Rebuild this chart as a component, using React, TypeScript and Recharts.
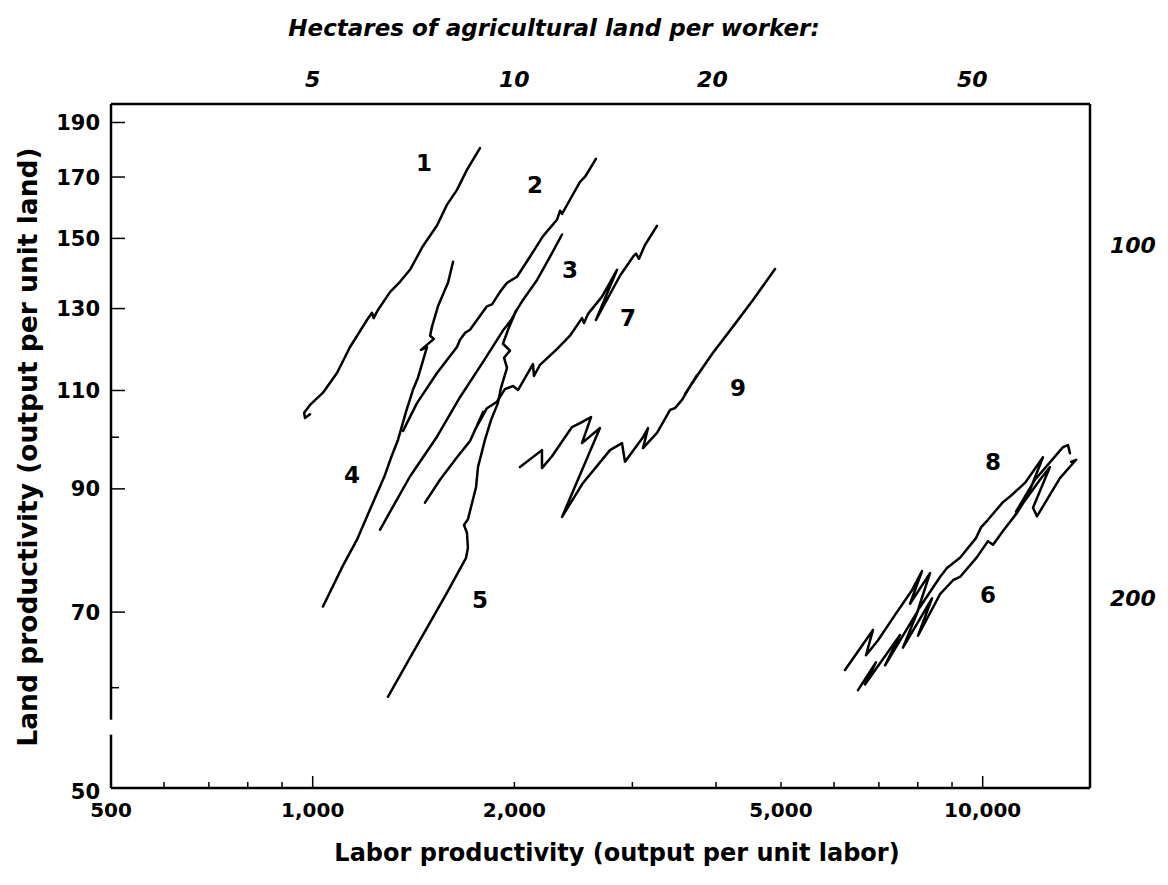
import React from 'react';
import { ComposedChart, Line, Scatter, XAxis, YAxis } from 'recharts';

// [labor productivity, land productivity] pairs
const line1 = [[991, 104.8], [974, 104.0], [971, 105.1], [991, 106.8], [1036, 109.5], [1087, 114.0], [1137, 120.2], [1205, 127.0], [1226, 128.9], [1233, 127.5], [1252, 129.7], [1305, 134.5], [1350, 137.3], [1397, 140.7], [1461, 147.7], [1533, 154.0], [1586, 160.6], [1642, 165.6], [1699, 172.5], [1777, 180.3]];
const line2 = [[1364, 101.3], [1431, 107.2], [1533, 114.0], [1642, 120.2], [1659, 122.0], [1688, 123.7], [1717, 124.5], [1759, 127.0], [1820, 130.6], [1852, 131.1], [1904, 134.5], [1950, 137.0], [2018, 138.7], [2110, 144.5], [2207, 150.7], [2315, 155.8], [2340, 158.7], [2356, 157.7], [2421, 162.3], [2506, 168.3], [2550, 170.1], [2647, 176.4]];
const line3 = [[1260, 82.8], [1397, 92.3], [1533, 100.1], [1659, 108.5], [1796, 116.6], [1923, 124.3], [1991, 127.6], [1957, 125.6], [2018, 129.7], [2060, 132.3], [2162, 137.8], [2261, 144.5], [2356, 151.2]];
const line4 = [[1620, 143.0], [1592, 137.0], [1538, 130.6], [1507, 125.3], [1497, 123.0], [1517, 122.2], [1451, 119.5], [1481, 120.2], [1461, 116.9], [1436, 112.9], [1411, 110.1], [1378, 105.3], [1341, 99.5], [1309, 95.9], [1282, 92.6], [1226, 87.1], [1164, 81.1], [1110, 77.0], [1036, 70.8]];
const line5 = [[1295, 58.9], [1446, 66.1], [1586, 72.8], [1694, 78.2], [1705, 79.8], [1699, 82.3], [1682, 83.6], [1705, 84.6], [1753, 90.3], [1765, 94.1], [1808, 99.5], [1846, 103.6], [1890, 107.2], [1910, 110.6], [1950, 115.2], [1930, 117.6], [1970, 119.3], [1923, 121.0], [1957, 124.5], [2011, 129.4]];
const line6 = [[6515, 59.7], [6931, 63.2], [6672, 60.4], [7527, 66.8], [7150, 62.8], [8006, 70.2], [7603, 65.1], [8402, 72.0], [8006, 66.7], [8636, 72.6], [9031, 74.7], [9250, 75.2], [9806, 78.3], [10183, 80.9], [10361, 80.3], [10722, 82.6], [11251, 85.7], [11488, 87.4], [12175, 91.7], [12600, 94.1], [11887, 86.6], [12051, 85.1], [13041, 92.0], [13785, 95.5], [13549, 95.1]];
const line7 = [[1471, 87.5], [1549, 91.7], [1642, 96.0], [1717, 99.2], [1796, 105.3], [1753, 101.9], [1820, 106.1], [1884, 107.5], [1936, 110.3], [1991, 111.0], [2025, 110.1], [2132, 116.1], [2139, 113.3], [2184, 115.9], [2315, 119.7], [2421, 123.0], [2523, 127.5], [2541, 126.2], [2576, 128.6], [2703, 133.2], [2846, 140.7], [2647, 127.0], [2875, 139.0], [3007, 144.5], [3038, 145.4], [3069, 143.9], [3133, 148.0], [3265, 153.9]];
const line8 = [[6230, 62.2], [6859, 67.5], [6696, 64.1], [6979, 66.1], [7399, 69.6], [7843, 73.2], [8118, 76.1], [7790, 71.2], [8344, 75.8], [8006, 70.3], [8636, 75.2], [8845, 76.6], [9250, 78.2], [9772, 81.4], [9943, 83.2], [10183, 84.5], [10722, 87.6], [10983, 88.6], [11564, 91.1], [12302, 96.0], [11764, 89.8], [11212, 85.9], [11968, 91.7], [13178, 98.0], [13406, 98.4], [13497, 96.8]];
const line9 = [[2039, 94.1], [2199, 97.4], [2199, 93.9], [2276, 96.2], [2438, 102.1], [2506, 102.9], [2603, 104.2], [2523, 98.8], [2684, 101.9], [2356, 85.0], [2532, 91.1], [2778, 97.4], [2895, 98.8], [2925, 95.1], [3112, 100.0], [3166, 101.9], [3112, 97.8], [3265, 100.9], [3414, 105.7], [3473, 106.1], [3558, 107.9], [3746, 113.5], [3595, 109.2], [3772, 114.0], [3958, 118.8], [4239, 125.3], [4541, 132.3], [4898, 140.9]];

const seriesLabels = [
  { name: '1', x: 1466, y: 175.0 },
  { name: '2', x: 2147, y: 167.3 },
  { name: '3', x: 2421, y: 140.7 },
  { name: '4', x: 1145, y: 92.6 },
  { name: '5', x: 1777, y: 71.8 },
  { name: '6', x: 10183, y: 72.5 },
  { name: '7', x: 2955, y: 127.5 },
  { name: '8', x: 10361, y: 95.1 },
  { name: '9', x: 4312, y: 110.6 },
];

const xDomain = [500, 14460];
const yDomain = [48.9, 197.3];
const xTicks = [500, 600, 700, 800, 900, 1000, 2000, 3000, 4000, 5000, 6000, 7000, 8000, 9000, 10000];
const xLabels: Record<number, string> = { 500: '500', 1000: '1,000', 2000: '2,000', 5000: '5,000', 10000: '10,000' };
const yTicks = [50, 60, 70, 90, 100, 110, 130, 150, 170, 190];
const yLabels = [50, 70, 90, 110, 130, 150, 170, 190];
// hectares per worker, marked along the top and right edges
const topTicks = [1000, 2000, 3950, 9650];
const topLabels = ['5', '10', '20', '50'];
const rightTicks = [148, 72];
const rightLabels = ['100', '200'];

const FONT = '"DejaVu Sans", Verdana, sans-serif';
const toPts = (arr: number[][]) => arr.map(([x, y]) => ({ x, y }));
const allLines = [line1, line2, line3, line4, line5, line6, line7, line8, line9].map(toPts);

const BottomTick = (props: any) => {
  const { x, y, payload } = props;
  const v = payload.value;
  const len = v === 1000 || v === 10000 ? 12 : 6;
  return (
    <g>
      {v !== 500 && <line x1={x} x2={x} y1={y} y2={y - len} stroke="#000" strokeWidth={1.5} />}
      {xLabels[v] && (
        <text x={x} y={y + 29} textAnchor="middle" fontFamily={FONT} fontWeight={700} fontSize={20} fill="#000">
          {xLabels[v]}
        </text>
      )}
    </g>
  );
};

const LeftTick = (props: any) => {
  const { x, y, payload } = props;
  const v = payload.value;
  const len = v === 60 || v === 100 ? 8 : 14;
  return (
    <g>
      {v !== 50 && <line x1={x} x2={x + len} y1={y} y2={y} stroke="#000" strokeWidth={1.5} />}
      {v === 60 && <rect x={x - 3} y={y + 32} width={6} height={15} fill="#fff" />}
      {yLabels.includes(v) && (
        <text x={x - 11} y={y + (v === 50 ? 14 : 0)} dy="0.36em" textAnchor="end" fontFamily={FONT} fontWeight={700} fontSize={21} fill="#000">
          {v}
        </text>
      )}
    </g>
  );
};

const TopTick = (props: any) => {
  const { x, y, index } = props;
  return (
    <text x={x} y={y - 17} textAnchor="middle" fontFamily={FONT} fontWeight={700} fontStyle="italic" fontSize={22} fill="#000">
      {topLabels[index]}
    </text>
  );
};

const RightTick = (props: any) => {
  const { x, y, index } = props;
  return (
    <text x={x + 20} y={y + 8} textAnchor="start" fontFamily={FONT} fontWeight={700} fontStyle="italic" fontSize={22} fill="#000">
      {rightLabels[index]}
    </text>
  );
};

const NumberLabel = (props: any) => {
  const { cx, cy, payload } = props;
  return (
    <text x={cx} y={cy} dy="0.36em" textAnchor="middle" fontFamily={FONT} fontWeight={700} fontSize={23} fill="#000">
      {payload.name}
    </text>
  );
};

export default function App() {
  return (
    <div style={{ position: 'absolute', left: 0, top: 0, width: 1168, height: 885, background: '#fff' }}>
      <ComposedChart width={1168} height={885} margin={{ top: 14, right: 8, bottom: 7, left: 11 }}>
        <XAxis
          xAxisId="bottom"
          dataKey="x"
          type="number"
          scale="log"
          domain={xDomain}
          allowDataOverflow
          ticks={xTicks}
          tickSize={0}
          tickMargin={0}
          tickLine={false}
          tick={BottomTick}
          axisLine={{ stroke: '#000', strokeWidth: 2.5 }}
          height={90}
          interval={0}
          label={{
            content: () => (
              <text x={617} y={861} textAnchor="middle" fontFamily={FONT} fontWeight={700} fontSize={24} fill="#000">
                Labor productivity (output per unit labor)
              </text>
            ),
          }}
        />
        <XAxis
          xAxisId="top"
          orientation="top"
          dataKey="x"
          type="number"
          scale="log"
          domain={xDomain}
          allowDataOverflow
          ticks={topTicks}
          tickSize={0}
          tickMargin={0}
          tickLine={false}
          tick={TopTick}
          axisLine={{ stroke: '#000', strokeWidth: 2.5 }}
          height={90}
          interval={0}
          label={{
            content: () => (
              <text x={554} y={36} textAnchor="middle" fontFamily={FONT} fontWeight={700} fontStyle="italic" fontSize={23} fill="#000">
                Hectares of agricultural land per worker:
              </text>
            ),
          }}
        />
        <YAxis
          yAxisId="left"
          dataKey="y"
          type="number"
          scale="log"
          domain={yDomain}
          allowDataOverflow
          ticks={yTicks}
          tickSize={0}
          tickMargin={0}
          tickLine={false}
          tick={LeftTick}
          axisLine={{ stroke: '#000', strokeWidth: 2.5 }}
          width={100}
          interval={0}
          label={{
            content: () => (
              <text x={27} y={447} transform="rotate(-90 27 447)" dy="0.36em" textAnchor="middle" fontFamily={FONT} fontWeight={700} fontSize={26.5} fill="#000">
                Land productivity (output per unit land)
              </text>
            ),
          }}
        />
        <YAxis
          yAxisId="right"
          orientation="right"
          dataKey="y"
          type="number"
          scale="log"
          domain={yDomain}
          allowDataOverflow
          ticks={rightTicks}
          tickSize={0}
          tickMargin={0}
          tickLine={false}
          tick={RightTick}
          axisLine={{ stroke: '#000', strokeWidth: 2.5 }}
          width={70}
          interval={0}
        />
        <Line xAxisId="top" yAxisId="right" data={allLines[0]} dataKey="y" stroke="none" dot={false} isAnimationActive={false} />
        {allLines.map((pts, i) => (
          <Line
            key={i}
            xAxisId="bottom"
            yAxisId="left"
            data={pts}
            dataKey="y"
            type="linear"
            stroke="#000"
            strokeWidth={2.5}
            strokeLinejoin="round"
            strokeLinecap="round"
            dot={false}
            activeDot={false}
            isAnimationActive={false}
          />
        ))}
        <Scatter xAxisId="bottom" yAxisId="left" data={seriesLabels} dataKey="y" shape={NumberLabel} isAnimationActive={false} />
      </ComposedChart>
    </div>
  );
}
